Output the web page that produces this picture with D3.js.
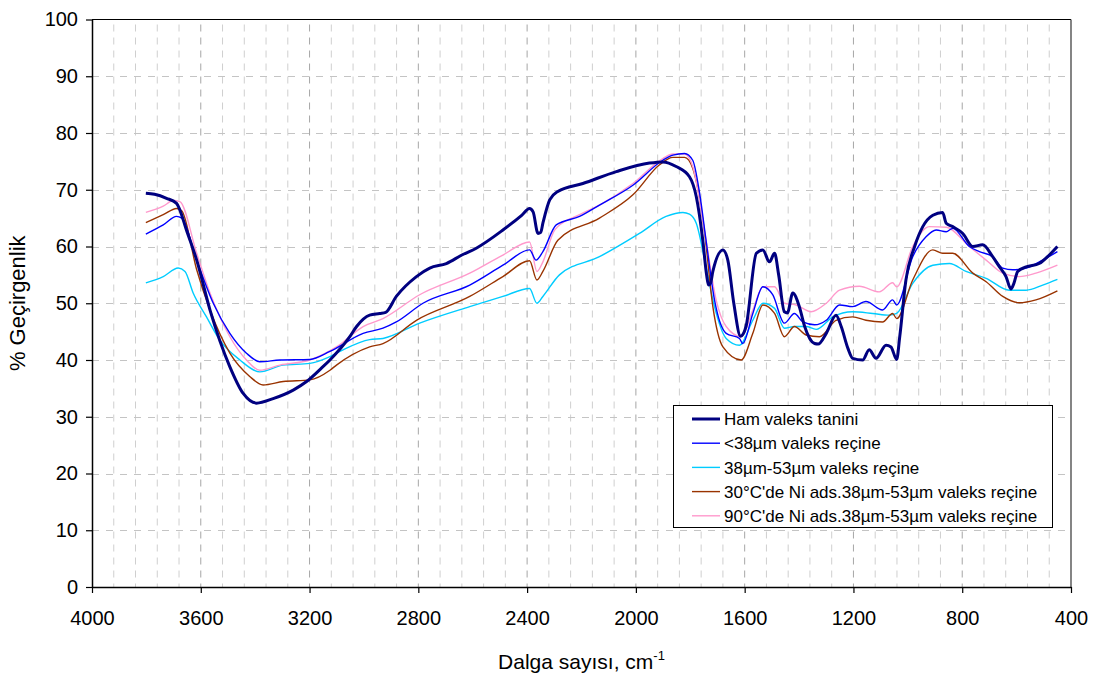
<!DOCTYPE html>
<html>
<head>
<meta charset="utf-8">
<script src="https://cdn.jsdelivr.net/npm/d3@7"></script>
<style>
  html, body { margin: 0; padding: 0; background: #fff; }
  svg { display: block; font-family: "Liberation Sans", Arial, sans-serif; }
</style>
</head>
<body>
<svg id="chart" width="1097" height="680"></svg>
<script>
// ---------------- DATA ----------------
const seriesNames = [
  "Ham valeks tanini",
  "<38µm valeks reçine",
  "38µm-53µm valeks reçine",
  "30°C'de Ni ads.38µm-53µm valeks reçine",
  "90°C'de Ni ads.38µm-53µm valeks reçine"
];

const hamX = [3802,3770,3726,3689,3650,3615,3566,3493,3444,3395,3334,3260,3211,3160,3125,3052,3027,2979,2942,2920,2881,2807,2758,2697,2640,2587,2489,2420,2391,2378,2360,2350,2342,2317,2287,2195,2072,1950,1901,1852,1803,1778,1754,1740,1733,1725,1717,1680,1662,1640,1615,1595,1557,1533,1509,1490,1475,1454,1443,1423,1399,1380,1343,1330,1300,1264,1245,1220,1203,1166,1142,1117,1080,1062,1041,1030,1007,975,945,908,872,859,835,798,761,725,688,663,639,621,610,596,565,517,480,450];
const hamY = [69.4,69.2,68.5,67.6,62.5,57.6,48.8,38.8,34.1,32.4,33.2,34.7,36.2,38.4,40.0,44.1,45.9,47.9,48.2,48.4,51.2,54.7,56.2,57.0,58.5,59.7,62.9,65.5,66.7,66.1,62.3,62.5,64.1,68.2,69.7,71.1,73.2,74.7,74.9,74.1,72.3,68.8,61.1,55.0,53.2,53.6,55.6,59.4,57.6,50.0,44.2,45.9,58.8,59.4,57.3,58.8,55.0,48.5,48.3,51.8,49.4,46.0,42.9,42.8,44.7,47.9,45.9,42.0,40.3,40.0,41.8,40.3,42.6,42.3,40.1,44.0,54.1,60.0,63.5,65.5,66.0,64.1,63.5,62.3,60.0,60.3,58.2,56.4,54.7,52.5,53.5,55.6,56.4,57.0,58.5,60.0];

const r38X = [3802,3738,3689,3670,3615,3554,3493,3432,3383,3309,3199,3125,3003,2930,2881,2783,2611,2489,2391,2367,2342,2293,2207,2134,2011,1901,1864,1821,1791,1766,1742,1711,1668,1619,1607,1570,1533,1497,1454,1417,1386,1343,1300,1251,1203,1154,1093,1056,1041,982,933,896,859,835,774,737,688,651,614,565,504,450];
const r38Y = [62.2,63.8,65.3,65.0,57.6,50.0,44.7,41.2,39.7,40.0,40.1,41.5,44.7,45.6,46.7,50.0,53.2,56.7,59.4,57.6,59.1,63.8,65.3,67.3,70.8,75.2,76.1,76.4,75.2,69.5,61.1,50.6,44.7,43.8,42.9,48.2,52.9,51.5,46.5,48.2,46.7,46.2,47.0,49.7,49.4,50.3,48.8,50.6,49.7,58.2,61.7,62.9,62.6,63.2,60.0,59.1,58.2,56.2,55.9,56.2,57.6,59.1];

const r3853X = [3802,3738,3683,3658,3628,3579,3530,3456,3383,3297,3199,3125,3077,2979,2930,2795,2611,2489,2391,2364,2342,2281,2134,1987,1889,1827,1803,1778,1742,1711,1668,1619,1570,1533,1490,1454,1417,1374,1337,1276,1203,1129,1068,1041,982,908,847,786,712,627,565,504,450];
const r3853Y = [53.6,54.7,56.2,55.6,51.8,47.6,43.5,40.0,37.9,39.1,39.4,40.6,41.8,43.6,43.8,46.5,49.4,51.2,52.6,50.0,51.2,55.0,58.2,62.3,65.3,66.0,65.7,64.1,56.4,49.4,43.8,42.6,47.0,50.0,49.1,45.6,45.9,45.9,45.4,47.6,48.5,48.2,47.9,48.2,53.5,56.7,57.0,55.6,54.4,52.3,52.3,53.2,54.2];

const ni30X = [3802,3738,3689,3670,3615,3566,3493,3420,3371,3297,3199,3125,3101,2979,2930,2807,2611,2489,2391,2364,2342,2287,2134,2011,1913,1864,1821,1791,1747,1717,1680,1613,1570,1533,1490,1454,1417,1374,1325,1264,1203,1154,1093,1056,1041,982,908,872,835,761,712,651,590,529,450];
const ni30Y = [64.2,65.6,66.7,66.3,55.9,48.8,41.2,37.1,35.6,36.2,36.5,38.2,39.1,42.3,42.9,47.0,51.2,54.7,57.5,54.1,55.6,61.1,65.0,69.1,74.4,75.7,75.7,73.8,62.3,49.4,42.3,40.0,44.7,49.7,48.2,44.1,45.9,44.4,44.1,47.0,47.6,47.0,46.7,48.2,47.3,54.1,59.4,58.8,58.8,55.3,53.8,51.2,50.1,50.6,52.2];

const ni90X = [3802,3738,3701,3677,3615,3566,3493,3432,3383,3309,3199,3101,3003,2930,2795,2611,2489,2391,2364,2342,2300,2287,2207,2134,2011,1901,1864,1821,1791,1742,1705,1668,1613,1570,1533,1490,1454,1411,1356,1300,1251,1178,1105,1056,1041,982,921,859,774,712,651,590,529,450];
const ni90Y = [66.0,67.1,68.1,67.9,58.8,51.8,44.1,40.0,38.2,39.1,40.0,42.3,45.9,47.3,51.5,55.3,58.5,60.8,55.6,57.3,62.8,63.5,65.6,67.3,71.1,75.5,76.3,76.3,74.1,61.1,50.6,45.9,44.1,48.8,52.9,52.9,50.0,49.7,48.5,50.0,52.3,53.0,52.0,53.6,52.9,60.0,63.5,63.4,60.0,57.6,55.3,54.7,55.3,56.7];

const xTicks = [4000,3600,3200,2800,2400,2000,1600,1200,800,400];
const yTicks = [0,10,20,30,40,50,60,70,80,90,100];

const colors = ["#000080", "#0000FF", "#00CCFF", "#993300", "#FF99CC"];
const widths = [3, 1.4, 1.4, 1.4, 1.4];

// ---------------- LAYOUT ----------------
const svg = d3.select("#chart");
const L = 92, T = 19.5, R = 1071, B = 587;

const x = d3.scaleLinear().domain([4000, 400]).range([L, R]);
const y = d3.scaleLinear().domain([0, 100]).range([B, T]);

// grid
const grid = svg.append("g");
const vGrid = d3.range(3920, 400, -80);
grid.selectAll("line.v").data(vGrid).join("line")
  .attr("x1", d => x(d)).attr("x2", d => x(d))
  .attr("y1", T).attr("y2", B)
  .attr("stroke", d => (d % 400 === 0) ? "#a6a6a6" : "#cfcfcf")
  .attr("stroke-width", 1)
  .attr("stroke-dasharray", "7,6")
  .attr("stroke-dashoffset", -5);
grid.selectAll("line.h").data(yTicks.filter(d => d > 0 && d < 100)).join("line")
  .attr("x1", L).attr("x2", R)
  .attr("y1", d => Math.round(y(d)) + 0.5).attr("y2", d => Math.round(y(d)) + 0.5)
  .attr("stroke", "#c4c4c4")
  .attr("stroke-width", 1)
  .attr("stroke-dasharray", "7,7");

// frame
svg.append("line").attr("x1", L).attr("x2", R).attr("y1", T).attr("y2", T).attr("stroke", "#000").attr("stroke-width", 1.2);
svg.append("line").attr("x1", R).attr("x2", R).attr("y1", T).attr("y2", B).attr("stroke", "#333").attr("stroke-width", 1.2);

// lines
const series = [
  {xs: hamX, ys: hamY},
  {xs: r38X, ys: r38Y},
  {xs: r3853X, ys: r3853Y},
  {xs: ni30X, ys: ni30Y},
  {xs: ni90X, ys: ni90Y}
];
const line = d3.line().x(d => x(d[0])).y(d => y(d[1])).curve(d3.curveMonotoneX);
const order = [2, 3, 4, 1, 0];
order.forEach(i => {
  const s = series[i];
  const pts = s.xs.map((v, k) => [v, s.ys[k]]).sort((a, b) => a[0] - b[0]);
  svg.append("path").datum(pts)
    .attr("d", line)
    .attr("fill", "none")
    .attr("stroke", colors[i])
    .attr("stroke-width", widths[i])
    .attr("stroke-linejoin", "round");
});

// axes
const yAxis = svg.append("g").attr("transform", `translate(${L},0)`)
  .call(d3.axisLeft(y).tickValues(yTicks).tickSize(6).tickPadding(8).tickSizeOuter(0));
const xAxis = svg.append("g").attr("transform", `translate(0,${B})`)
  .call(d3.axisBottom(x).tickValues(xTicks).tickSize(6).tickPadding(18).tickSizeOuter(0).tickFormat(d3.format("d")));
[yAxis, xAxis].forEach(a => {
  a.select(".domain").attr("stroke", "#000").attr("stroke-width", 1.5);
  a.selectAll(".tick line").attr("stroke", "#000").attr("stroke-width", 1.2);
  a.selectAll(".tick text").attr("font-size", 20).attr("fill", "#000")
    .attr("font-family", "'Liberation Sans', Arial, sans-serif");
});

// axis titles
const xt = svg.append("text")
  .attr("x", (L + R) / 2).attr("y", 669)
  .attr("text-anchor", "middle")
  .attr("font-size", 21).attr("fill", "#000");
xt.append("tspan").text("Dalga sayısı, cm");
xt.append("tspan").attr("font-size", 13).attr("dy", -9).text("-1");

svg.append("text")
  .attr("transform", `translate(25,${(T + B) / 2}) rotate(-90)`)
  .attr("text-anchor", "middle")
  .attr("font-size", 22).attr("fill", "#000")
  .text("% Geçirgenlik");

// legend
const lg = svg.append("g");
lg.append("rect").attr("x", 673.5).attr("y", 405.5).attr("width", 379).attr("height", 122)
  .attr("fill", "#fff").attr("stroke", "#000").attr("stroke-width", 1);
seriesNames.forEach((n, i) => {
  const cy = 419 + i * 24.2;
  lg.append("line").attr("x1", 692).attr("x2", 720).attr("y1", cy).attr("y2", cy)
    .attr("stroke", colors[i]).attr("stroke-width", widths[i]);
  lg.append("text").attr("x", 724).attr("y", cy).attr("dy", "0.36em")
    .attr("font-size", 17).attr("fill", "#000").text(n);
});
</script>
</body>
</html>
